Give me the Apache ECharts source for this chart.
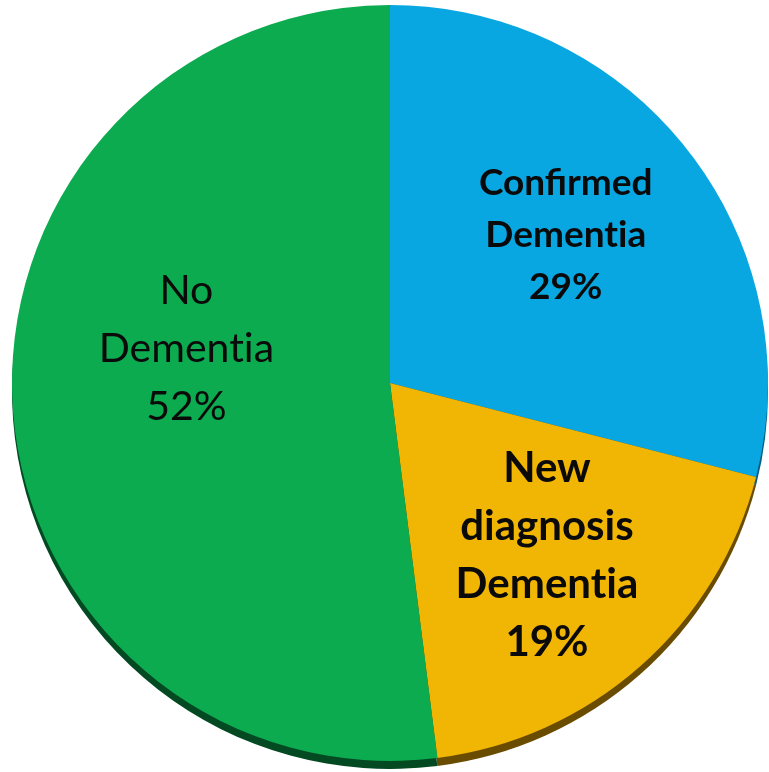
<!DOCTYPE html>
<html>
<head>
<meta charset="utf-8">
<script src="https://cdn.jsdelivr.net/npm/echarts@6/dist/echarts.min.js"></script>
<style>html,body{margin:0;padding:0;background:#fff}#c{width:769px;height:772px}</style>
</head>
<body>
<div id="c"></div>
<script>
const categories = ['Confirmed\nDementia', 'New\ndiagnosis\nDementia', 'No\nDementia'];
const values = [29, 19, 52];
const faceColors = ['#08a7e1', '#f1b504', '#0cab50'];
const shadowColors = ['#045a7a', '#6a4c00', '#034a22'];
const labelOffsets = [[24, -30], [30, 28], [-12, -46]];
const labelSizes = [37, 42, 41];
const labelWeights = ['bold', 'bold', 'normal'];
const labelLineHeights = [52, 58, 58];

const chart = echarts.init(document.getElementById('c'), null, {renderer: 'canvas'});
const center = [390, 383];
const R = 378;

// break the "ti" ligature for display only
const noLig = s => s.replace(/ti/g, 't\u200Ci');

const shadowData = categories.map((c, i) => ({
  name: c, value: values[i], itemStyle: {color: shadowColors[i]}
}));
const faceData = categories.map((c, i) => ({
  name: c, value: values[i],
  itemStyle: {color: faceColors[i]},
  label: {
    offset: labelOffsets[i],
    fontSize: labelSizes[i],
    fontWeight: labelWeights[i],
    lineHeight: labelLineHeights[i]
  }
}));

chart.setOption({
  animation: false,
  series: [
    {
      type: 'pie', silent: true, z: 1,
      center: [center[0], center[1] + 8], radius: R,
      startAngle: 90, clockwise: true,
      label: {show: false}, labelLine: {show: false},
      data: shadowData
    },
    {
      type: 'pie', z: 2,
      center: center, radius: R,
      startAngle: 90, clockwise: true,
      itemStyle: {borderWidth: 0},
      label: {
        show: true, position: 'inside',
        fontFamily: 'Lato, "Liberation Sans", sans-serif',
        color: '#0a0a0a', align: 'center',
        formatter: p => noLig(p.name) + '\n' + p.value + '%'
      },
      labelLine: {show: false},
      data: faceData
    }
  ]
});
</script>
</body>
</html>
